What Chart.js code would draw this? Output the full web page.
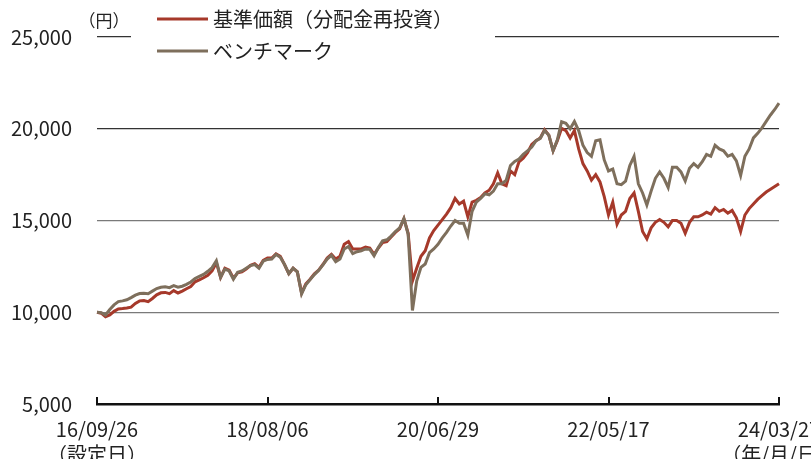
<!DOCTYPE html>
<html>
<head>
<meta charset="utf-8">
<script src="https://cdn.jsdelivr.net/npm/chart.js@4"></script>
<style>
  body { margin: 0; background: #fff; }
  #wrap { width: 811px; height: 459px; }
</style>
</head>
<body>
<div id="wrap"><canvas id="navChart" width="811" height="459"></canvas></div>
<script>
// x-axis labels, one every 40 points
const dateTicks = [
    ['16/09/26', '（設定日）'],
    ['18/08/06'],
    ['20/06/29'],
    ['22/05/17'],
    ['24/03/27', '（年/月/日）']
];
const tickEvery = 40;

const seriesNames = ['基準価額（分配金再投資）', 'ベンチマーク'];

// 基準価額（分配金再投資）, yen
const fund = [
    10000, 9950, 9750, 9850, 10050, 10180, 10200, 10230, 10280, 10480,
    10620, 10640, 10580, 10750, 10950, 11060, 11080, 11010, 11180, 11050,
    11150, 11280, 11400, 11660, 11770, 11880, 12020, 12250, 12700, 11900,
    12400, 12300, 11850, 12150, 12200, 12350, 12560, 12650, 12450, 12830,
    12950, 12950, 13180, 13050, 12600, 12100, 12400, 12200, 11050, 11550,
    11800, 12100, 12300, 12600, 12950, 13150, 12900, 13050, 13700, 13850,
    13450, 13450, 13450, 13550, 13500, 13150, 13500, 13800, 13850, 14100,
    14350, 14550, 15100, 14300, 11700, 12400, 13050, 13350, 14050, 14450,
    14750, 15050, 15350, 15700, 16200, 15900, 16050, 15200, 16000, 16100,
    16250, 16500, 16650, 17000, 17600, 17000, 16900, 17700, 17500, 18200,
    18400, 18700, 19150, 19350, 19500, 19950, 19650, 18800, 19350, 20020,
    19900, 19500, 19900, 18900, 18100, 17700, 17200, 17500, 17100, 16300,
    15300, 16000, 14800, 15300, 15500, 16200, 16500, 15500, 14400, 14000,
    14600, 14900, 15050, 14900, 14650, 15000, 15000, 14850, 14300, 14900,
    15200, 15200, 15300, 15450, 15350, 15700, 15500, 15600, 15400, 15550,
    15150, 14400, 15300, 15650, 15900, 16150, 16350, 16550, 16700, 16850,
    17000
];

// ベンチマーク, yen
const bench = [
    10000, 9980, 9850, 10150, 10400, 10580, 10620, 10680, 10800, 10930,
    11020, 11040, 11010, 11150, 11290, 11360, 11390, 11340, 11450, 11370,
    11420, 11520, 11650, 11840, 11950, 12060, 12230, 12430, 12800, 11900,
    12350, 12250, 11800, 12180, 12250, 12400, 12540, 12600, 12400, 12780,
    12880, 12900, 13150, 13000, 12600, 12100, 12400, 12200, 11000, 11500,
    11780, 12050, 12280, 12580, 12900, 13100, 12750, 12900, 13450, 13580,
    13200, 13300, 13350, 13450, 13430, 13080, 13530, 13890, 13950, 14150,
    14400, 14600, 15100, 14250, 10100, 11700, 12450, 12630, 13250, 13450,
    13700, 14050, 14350, 14700, 15000, 14850, 14850, 14200, 15500, 16000,
    16200, 16450, 16400, 16600, 17000, 17000, 17200, 18000, 18220, 18350,
    18600, 18800, 19000, 19350, 19480, 19900, 19650, 18800, 19400, 20380,
    20300, 20000, 20400, 19900, 19100, 18700, 18500, 19350, 19400, 18300,
    17700, 17800, 17000, 16950, 17150, 18000, 18500, 17000, 16500, 15850,
    16600, 17300, 17650, 17300, 16800, 17900, 17900, 17650, 17150, 17850,
    18100, 17900, 18200, 18600, 18500, 19100, 18900, 18800, 18500, 18600,
    18250, 17450, 18500, 18900, 19500, 19750, 20050, 20400, 20750, 21050,
    21400
];

const FONT = '"Noto Sans CJK JP", "Noto Sans", sans-serif';
const RED = '#a6392a';
const BROWN = '#7e6f5c';

// legend, (円) label and upward tick marks drawn by hand
const decorPlugin = {
    id: 'decor',
    afterDraw(chart) {
        const ctx = chart.ctx;
        const xs = chart.scales.x;
        const area = chart.chartArea;
        ctx.save();
        // tick marks pointing up from the bottom axis
        ctx.strokeStyle = '#111';
        ctx.lineWidth = 2;
        dateTicks.forEach((_, i) => {
            const px = Math.round(xs.getPixelForValue(i * tickEvery));
            ctx.beginPath();
            ctx.moveTo(px, area.bottom);
            ctx.lineTo(px, area.bottom - 7);
            ctx.stroke();
        });
        // white box behind the legend hides part of the top grid line
        ctx.fillStyle = '#fff';
        ctx.fillRect(131, 28, 364, 14);
        ctx.fillStyle = '#222';
        ctx.font = '17px ' + FONT;
        ctx.textAlign = 'center';
        ctx.textBaseline = 'middle';
        ctx.fillText('（円）', 104, 21);
        ctx.textAlign = 'left';
        ctx.font = '20px ' + FONT;
        const cols = [RED, BROWN];
        const rows = [19, 51];
        seriesNames.forEach((name, i) => {
            ctx.strokeStyle = cols[i];
            ctx.lineWidth = 3;
            ctx.beginPath();
            ctx.moveTo(157, rows[i]);
            ctx.lineTo(208, rows[i]);
            ctx.stroke();
            ctx.fillText(name, 213, rows[i]);
        });
        ctx.restore();
    }
};

new Chart(document.getElementById('navChart'), {
    type: 'line',
    data: {
        labels: fund.map((_, i) => i),
        datasets: [
            {
                label: seriesNames[0],
                data: fund,
                borderColor: RED,
                borderWidth: 3,
                pointRadius: 0,
                tension: 0,
                order: 1
            },
            {
                label: seriesNames[1],
                data: bench,
                borderColor: BROWN,
                borderWidth: 3,
                pointRadius: 0,
                tension: 0,
                order: 0
            }
        ]
    },
    options: {
        responsive: false,
        animation: false,
        layout: {
            autoPadding: false,
            padding: { top: 35, right: 32, bottom: 0, left: 0 }
        },
        plugins: {
            legend: { display: false },
            tooltip: { enabled: false }
        },
        scales: {
            x: {
                type: 'category',
                afterFit: (s) => {
                    s.height = 55;
                    // let the last date run off the canvas like the original
                    s.paddingLeft = 0;
                    s.paddingRight = 0;
                },
                grid: { display: false, drawTicks: false },
                border: { display: true, color: '#111', width: 2.5 },
                ticks: {
                    autoSkip: false,
                    maxRotation: 0,
                    padding: 13,
                    color: '#222',
                    font: { family: FONT, size: 20, lineHeight: 1.25 },
                    callback: (v, i) => (i % tickEvery === 0 ? dateTicks[i / tickEvery] : null)
                }
            },
            y: {
                min: 5000,
                max: 25000,
                afterFit: (s) => { s.width = 97; },
                border: { display: false },
                grid: {
                    drawTicks: false,
                    lineWidth: 1.2,
                    color: (c) => {
                        const v = c.tick.value;
                        if (v === 5000) return 'rgba(0,0,0,0)';
                        return v >= 20000 ? '#333' : '#7a7a7a';
                    }
                },
                ticks: {
                    stepSize: 5000,
                    padding: 25,
                    color: '#222',
                    font: { family: FONT, size: 20 },
                    callback: (v) => v.toLocaleString('en-US')
                }
            }
        }
    },
    plugins: [decorPlugin]
});
</script>
</body>
</html>
